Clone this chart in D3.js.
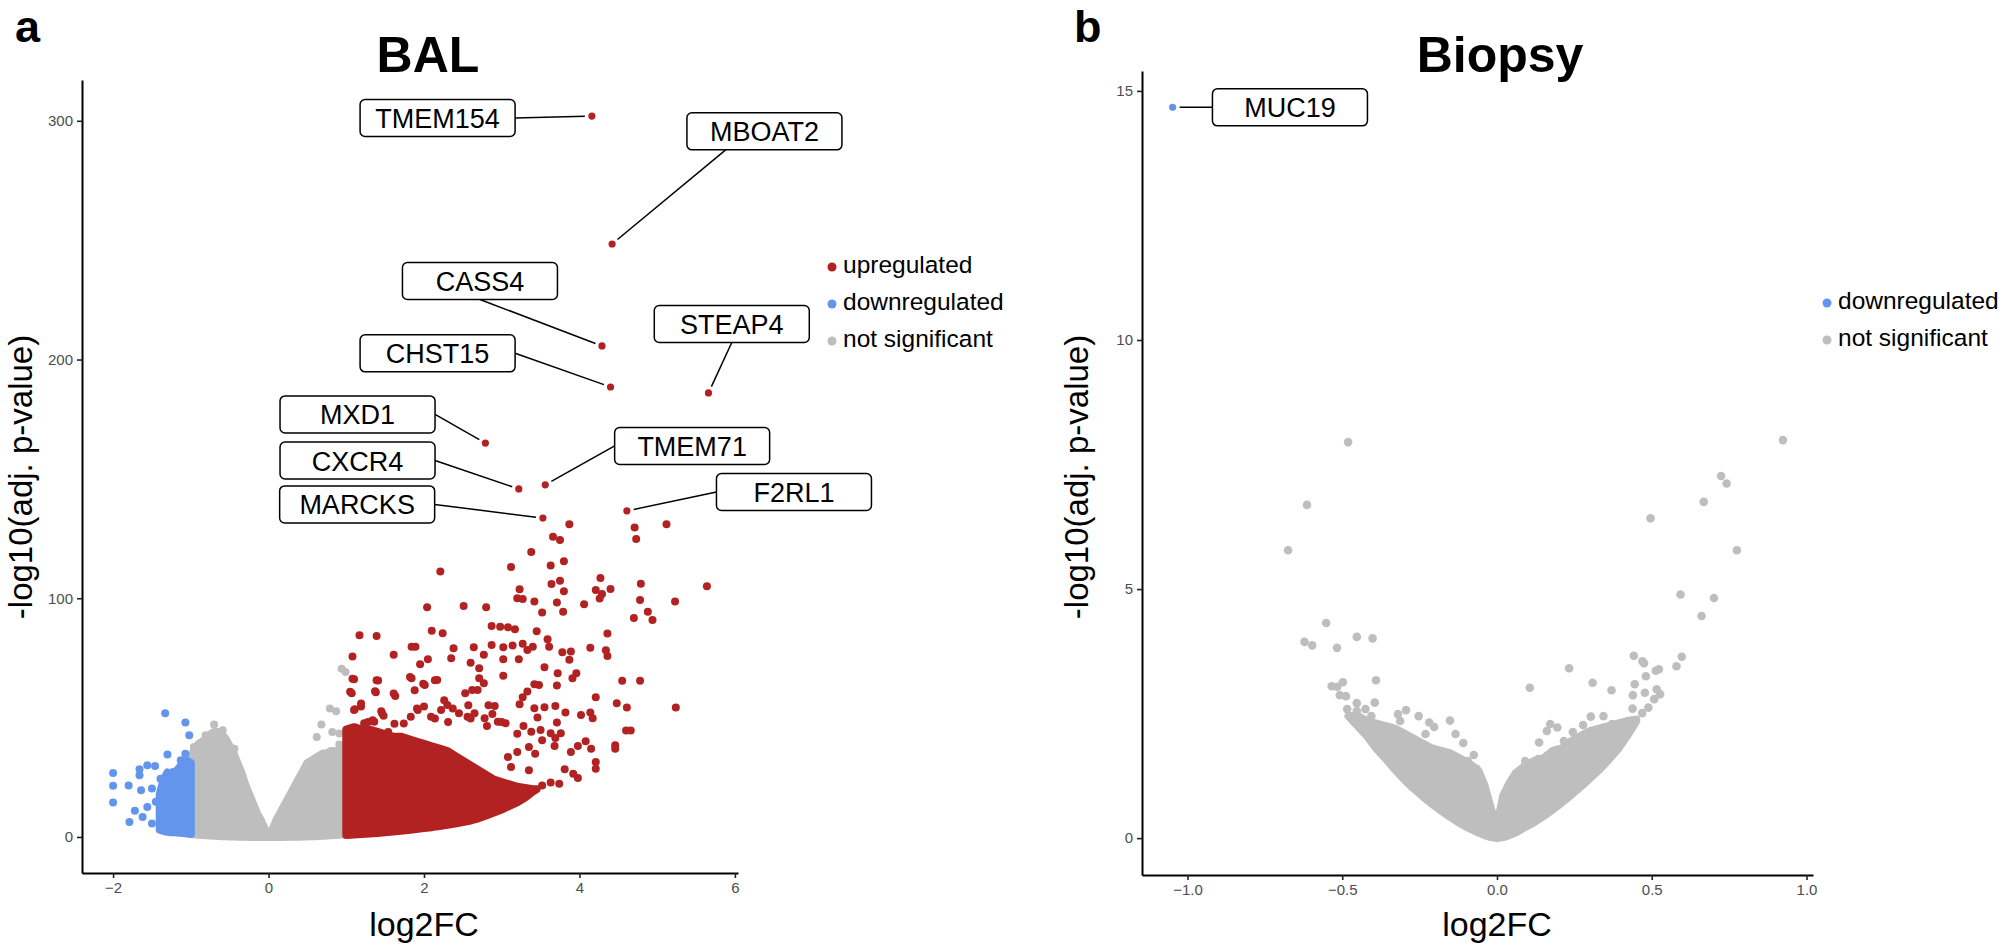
<!DOCTYPE html>
<html>
<head>
<meta charset="utf-8">
<script src="https://cdn.jsdelivr.net/npm/d3@7"></script>
<style>
    body { margin: 0; background: #fff; }
    svg { display: block; }
    text { font-family: "Liberation Sans", Arial, sans-serif; }
</style>
</head>
<body>
<svg id="chart" width="2007" height="950"></svg>
<script>
// ---- BAL data ----
var balUp = [
    [3.87,131.0],[3.66,125.8],[3.75,124.4],[3.38,119.4],[3.80,115.5],[3.63,113.7],[3.12,113.1],[2.21,111.2],
    [3.75,107.3],[3.64,106.0],[3.23,103.8],[3.80,102.9],[3.20,100.0],[3.27,99.7],[3.42,98.6],[3.71,98.2],
    [3.52,94.0],[3.79,94.3],[2.04,96.2],[2.51,96.8],[2.80,96.2],[4.27,108.5],[4.21,103.5],[4.40,103.9],
    [4.29,101.8],[4.26,99.9],[4.06,97.5],[4.71,129.6],[4.73,124.8],[5.12,131.0],[4.79,106.1],[4.78,99.3],
    [5.23,98.6],[5.64,105.0],[4.88,94.3],[4.94,90.9],[4.70,91.7],[4.36,85.2],[4.14,79.3],[4.36,75.8],
    [4.34,78.2],[4.55,65.4],[4.78,65.4],[5.24,54.2],[4.48,56.0],[4.61,54.2],[4.21,58.5],[4.60,44.6],
    [4.66,44.6],[3.45,86.2],[2.87,88.4],[2.98,88.1],[3.08,87.8],[3.17,87.0],[3.59,82.8],[3.61,79.7],
    [3.78,77.4],[3.89,77.7],[3.87,74.2],[3.96,68.6],[3.91,66.5],[3.72,68.6],[3.55,71.1],[3.40,79.7],
    [3.33,78.3],[3.27,80.9],[3.14,80.2],[3.02,79.5],[2.87,80.4],[2.64,79.5],[2.38,79.0],[2.24,85.3],
    [2.10,86.4],[1.89,79.7],[1.84,79.7],[1.61,76.3],[1.39,84.2],[1.17,84.5],[1.08,75.6],[1.10,66.1],
    [1.07,60.2],[1.41,65.5],[1.38,60.6],[1.63,59.1],[1.84,66.5],[1.95,72.3],[2.05,74.4],[2.01,63.7],
    [2.17,65.8],[2.35,74.9],[2.60,73.0],[2.71,70.7],[2.77,76.3],[3.02,74.4],[3.22,74.4],[3.02,67.5],
    [2.71,66.5],[2.77,64.4],[2.69,61.6],[2.53,60.2],[2.62,61.6],[3.42,64.0],[3.48,63.7],[3.71,63.4],
    [3.33,60.9],[3.27,58.5],[3.23,55.6],[3.42,53.9],[3.55,54.3],[3.69,54.9],[3.82,52.1],[4.02,51.1],
    [4.14,52.1],[4.17,49.7],[3.46,50.0],[3.28,46.5],[3.71,47.9],[3.76,43.4],[3.63,43.4],[3.50,44.8],
    [3.38,44.1],[3.20,43.2],[2.91,54.9],[2.88,51.5],[2.78,49.7],[2.95,48.3],[3.05,47.6],[2.81,46.5],
    [2.65,51.8],[2.56,50.4],[2.45,51.8],[2.30,55.3],[2.22,53.2],[2.09,50.4],[2.00,54.6],[1.92,53.2],
    [1.83,50.4],[1.62,47.4],[1.46,51.8],[1.36,48.3],[1.23,47.6],[1.19,54.6],[1.10,53.2],[1.48,50.8],
    [3.69,41.5],[4.21,31.4],[4.21,28.6],[4.15,37.0],[4.08,40.1],[3.98,38.1],[3.89,35.6],[3.68,38.1],
    [3.81,28.4],[3.92,26.5],[3.98,24.7],[3.74,22.3],[3.63,22.8],[3.52,21.6],[3.52,40.5],[3.35,37.7],
    [3.43,34.9],[3.20,35.6],[3.08,33.5],[3.12,29.3],[3.35,27.9],[4.46,38.4],[4.46,37.0],[1.60,41.2],
    [1.05,60.8],[1.08,66.3],[1.11,53.5],[1.19,55.9],[1.28,48.2],[1.39,65.6],[1.37,61.0],[1.45,52.7],
    [1.61,60.1],[1.82,67.0],[1.88,61.5],[1.99,64.2],[2.14,65.6],[2.26,57.3],[2.37,53.8],[2.57,55.2],
    [2.83,55.2],[3.00,48.2],[2.60,49.6],[2.31,48.2],[2.14,49.6],[1.91,53.8],[1.74,47.5],[1.54,44.0],
    [1.34,48.9]
];
var balDown = [
    [-2.00,26.8],[-2.00,21.4],[-2.00,14.4],[-1.80,21.6],[-1.79,6.3],[-1.33,51.8],[-1.07,47.9],[-1.02,42.6],
    [-1.30,34.5],[-1.66,28.4],[-1.66,25.8],[-1.56,30.0],[-1.46,29.7],[-1.64,19.6],[-1.72,11.0],[-1.62,8.4],
    [-1.50,5.6],[-1.50,20.3],[-1.39,24.4],[-1.23,27.2],[-1.13,32.1],[-1.07,34.9],[-1.19,21.6],[-1.36,17.5],
    [-1.25,13.3],[-1.45,14.7],[-1.56,12.6],[-1.13,10.5],[-1.30,7.7],[-1.13,3.5],[-1.07,4.9],[-1.39,4.9],
    [-1.22,2.1]
];
var balNs = [
    [0.94,70.5],[0.99,69.1],[0.79,53.8],[0.87,52.7],[0.68,47.1],[0.62,41.9],[0.82,44.0],[0.91,43.3],
    [0.99,37.7],[0.91,38.7],[-0.70,47.1],[-0.59,44.7],[-0.81,42.6],[-0.96,37.7],[-0.44,37.0]
];

// dense part of each cloud: x, lower and upper edge of the point centres
var balNsCloudX = [-1.0,-0.95,-0.9,-0.85,-0.8,-0.75,-0.7,-0.65,-0.6,-0.55,-0.5,-0.45,-0.4,-0.35,-0.3,-0.25,-0.2,-0.15,-0.1,-0.05,0,
    0.05,0.1,0.15,0.2,0.25,0.3,0.35,0.4,0.45,0.5,0.55,0.6,0.65,0.7,0.75,0.8,0.85,0.9,0.95,1.0];
var balNsCloudLow = [1.2,1.0,0.9,0.8,0.7,0.6,0.5,0.4,0.3,0.3,0.2,0.2,0.1,0.1,0.1,0,0,0,0,0,0,
    0,0,0,0,0.1,0.1,0.1,0.1,0.2,0.2,0.3,0.3,0.4,0.5,0.6,0.7,0.8,0.9,1.0,1.2];
var balNsCloudHigh = [33,37,39,40,41,43,44,44,43,41,38,35,31,27,22,18,14,10,7,3.5,1,
    3,7,10,13,16,19,22,25,28,31,32,33,34,35,35,36,36,36,36,35];

var balDownCloudX = [-1.40,-1.35,-1.3,-1.25,-1.2,-1.15,-1.1,-1.05,-1.0];
var balDownCloudLow = [3,2.5,2.2,2,2,1.8,1.6,1.4,1.2];
var balDownCloudHigh = [18,24,27,25,27,29,31,32,31];

var balUpCloudX = [1.0,1.1,1.2,1.3,1.4,1.5,1.6,1.7,1.8,1.9,2.0,2.1,2.2,2.3,2.4,2.5,2.6,2.7,2.8,2.9,3.0,3.1,3.2,3.3,3.4,3.45];
var balUpCloudLow = [0.8,1.0,1.2,1.4,1.7,2.0,2.3,2.6,2.9,3.3,3.7,4.1,4.6,5.1,5.6,6.2,6.9,7.8,9.0,10.2,11.5,13.0,14.5,16.5,19,20];
var balUpCloudHigh = [45,46,45,45,44,43,42,42,41,40,39,38,37,36,34,32,30,28,26,24,23,22,21,20.5,20,20];

var balGenes = ["TMEM154","MBOAT2","CASS4","STEAP4","CHST15","MXD1","CXCR4","TMEM71","MARCKS","F2RL1"];
var balGeneX = [4.16,4.42,4.29,5.66,4.40,2.79,3.22,3.56,3.53,4.61];
var balGeneY = [302,248.4,205.7,186,188.5,165,145.8,147.5,133.6,136.6];
// label centres as placed by the repel layout, in data units
var balLabelX = [2.175,6.38,2.72,5.96,2.175,1.145,1.145,5.45,1.14,6.76];
var balLabelY = [301.2,295.6,232.9,214.9,202.6,177.0,157.7,163.8,139.3,144.5];
var balLabelSide = ["r","bl","b","b","r","r","r","l","r","l"];

var balXTicks = [-2, 0, 2, 4, 6];
var balYTicks = [0, 100, 200, 300];
var balLegend = ["upregulated", "downregulated", "not significant"];

// ---- Biopsy data ----
var bioNs = [
    [-0.481,7.95],[-0.614,6.69],[-0.675,5.78],[-0.552,4.32],[-0.622,3.94],[-0.597,3.87],[-0.517,3.82],[-0.453,4.04],
    [-0.402,4.01],[-0.391,3.17],[-0.534,3.05],[-0.516,3.04],[-0.498,3.13],[-0.508,2.87],[-0.488,2.85],[-0.453,2.71],
    [-0.484,2.59],[-0.425,2.59],[-0.395,2.72],[-0.406,2.45],[-0.453,2.55],[-0.438,2.39],[-0.320,2.49],[-0.294,2.57],
    [-0.253,2.45],[-0.313,2.35],[-0.219,2.32],[-0.203,2.23],[-0.152,2.36],[-0.231,2.09],[-0.134,2.09],[-0.109,1.91],
    [-0.075,1.67],[-0.344,2.12],[-0.297,1.99],[-0.266,1.85],[-0.188,1.72],[-0.148,1.65],[-0.094,1.55],[-0.066,1.39],
    [-0.059,1.19],[-0.047,0.82],
    [0.924,7.99],[0.724,7.27],[0.742,7.12],[0.668,6.75],[0.496,6.42],[0.775,5.78],[0.593,4.89],[0.701,4.82],
    [0.661,4.46],[0.442,3.66],[0.470,3.55],[0.475,3.51],[0.597,3.64],[0.580,3.45],[0.513,3.36],[0.523,3.39],
    [0.233,3.41],[0.309,3.12],[0.106,3.02],[0.370,2.97],[0.481,3.25],[0.445,3.09],[0.439,2.87],[0.478,2.92],
    [0.516,2.99],[0.527,2.89],[0.508,2.79],[0.489,2.62],[0.438,2.60],[0.469,2.51],[0.303,2.44],[0.344,2.45],
    [0.372,2.29],[0.403,2.28],[0.427,2.32],[0.278,2.27],[0.172,2.29],[0.195,2.22],[0.161,2.15],[0.245,2.13],
    [0.216,1.95],[0.317,2.15],[0.136,1.92],[0.259,1.72],[0.091,1.55],[0.133,1.59],[0.078,1.32],[0.066,1.17],
    [0.044,0.79]
];
var bioCloudX = [-0.48,-0.45,-0.42,-0.39,-0.36,-0.33,-0.30,-0.27,-0.24,-0.21,-0.18,-0.15,-0.12,-0.09,-0.06,-0.04,-0.02,0,
    0.02,0.04,0.06,0.09,0.12,0.15,0.18,0.21,0.24,0.27,0.30,0.33,0.36,0.39,0.42,0.45];
var bioCloudLow = [2.45,2.25,2.05,1.80,1.60,1.38,1.18,1.00,0.84,0.69,0.55,0.42,0.30,0.20,0.11,0.06,0.02,0,
    0.02,0.06,0.11,0.22,0.32,0.44,0.57,0.72,0.87,1.03,1.20,1.37,1.57,1.78,2.05,2.35];
var bioCloudHigh = [2.45,2.45,2.35,2.3,2.25,2.2,2.1,2.0,1.9,1.8,1.75,1.7,1.6,1.5,1.35,1.05,0.6,0.25,
    0.85,1.1,1.3,1.45,1.55,1.6,1.75,1.8,1.95,2.05,2.15,2.2,2.25,2.3,2.35,2.38];

var bioGenes = ["MUC19"];
var bioGeneX = [-1.048];
var bioGeneY = [14.67];
var bioLabelX = [-0.669];
var bioLabelY = [14.67];
var bioLabelSide = ["l"];

var bioXTicks = [-1, -0.5, 0, 0.5, 1];
var bioYTicks = [0, 5, 10, 15];
var bioLegend = ["downregulated", "not significant"];

var COLORS = { "upregulated": "#B22222", "downregulated": "#6495ED", "not significant": "#BEBEBE" };
var POINT_R = 4;

var Volcano = {

    makeScales : function (p) {
        return {
            x : d3.scaleLinear().domain(p.xDomain).range([p.left, p.right]),
            y : d3.scaleLinear().domain(p.yDomain).range([p.bottom, p.top])
        };
    },

    drawAxes : function (svg, p, s) {
        var xAxis = d3.axisBottom(s.x).tickValues(p.xTicks).tickFormat(p.xFormat)
                .tickSize(5).tickSizeOuter(0).tickPadding(4),
            yAxis = d3.axisLeft(s.y).tickValues(p.yTicks).tickFormat(d3.format("d"))
                .tickSize(5).tickSizeOuter(0).tickPadding(4);

        var gx = svg.append("g").attr("transform", "translate(0," + p.bottom + ")").call(xAxis),
            gy = svg.append("g").attr("transform", "translate(" + p.left + ",0)").call(yAxis);

        [gx, gy].forEach(function (g) {
            g.attr("font-family", null).attr("font-size", null);
            g.select(".domain").attr("stroke", "#000").attr("stroke-width", 2);
            g.selectAll(".tick line").attr("stroke", "#222").attr("stroke-width", 1.6);
            g.selectAll(".tick text").attr("fill", "#4D4D4D").style("font-size", "15px");
        });

        // axis titles
        svg.append("text")
            .attr("x", p.xTitleX)
            .attr("y", 936)
            .attr("text-anchor", "middle")
            .style("font-size", "34px")
            .text("log2FC");

        svg.append("text")
            .attr("transform", "translate(" + p.yTitleX + ",477) rotate(-90)")
            .attr("text-anchor", "middle")
            .style("font-size", "33px")
            .text("-log10(adj. p-value)");

        svg.append("text")
            .attr("x", p.titleX)
            .attr("y", 72)
            .attr("text-anchor", "middle")
            .style("font-size", "50px")
            .style("font-weight", "bold")
            .text(p.title);

        svg.append("text")
            .attr("x", p.tagX)
            .attr("y", 42)
            .style("font-size", "45px")
            .style("font-weight", "bold")
            .text(p.tag);
    },

    drawCloud : function (svg, s, xs, lo, hi, color) {
        var rows = xs.map(function (v, i) {
            return { x : v, lo : lo[i], hi : hi[i] };
        });
        var area = d3.area()
            .x(function (d) { return s.x(d.x); })
            .y0(function (d) { return s.y(d.lo); })
            .y1(function (d) { return s.y(d.hi); });

        svg.append("path")
            .datum(rows)
            .attr("d", area)
            .attr("fill", color)
            .attr("stroke", color)
            .attr("stroke-width", POINT_R * 2)
            .attr("stroke-linejoin", "round");
    },

    drawPoints : function (svg, s, pts, color, r) {
        svg.append("g")
            .selectAll("circle")
            .data(pts)
            .enter()
            .append("circle")
                .attr("cx", function (d) { return s.x(d[0]); })
                .attr("cy", function (d) { return s.y(d[1]); })
                .attr("r", r)
                .attr("fill", color);
    },

    drawLabels : function (svg, s, genes, gx, gy, lx, ly, side, color) {
        var boxW = 155, boxH = 37;
        var data = genes.map(function (g, i) {
            var cx = s.x(lx[i]), cy = s.y(ly[i]),
                px = s.x(gx[i]), py = s.y(gy[i]),
                ax = cx, ay = cy;
            if (side[i] === "r") { ax = cx + boxW / 2; }
            if (side[i] === "l") { ax = cx - boxW / 2; }
            if (side[i] === "b") { ay = cy + boxH / 2; }
            if (side[i] === "bl") { ay = cy + boxH / 2; ax = cx - boxW / 4; }
            if (side[i] === "t") { ay = cy - boxH / 2; }
            // stop the segment a little short of the point
            var dx = px - ax, dy = py - ay, len = Math.sqrt(dx * dx + dy * dy),
                k = (len - 7) / len;
            return { name : g, cx : cx, cy : cy, px : px, py : py, ax : ax, ay : ay,
                     ex : ax + dx * k, ey : ay + dy * k };
        });

        var g = svg.append("g");

        g.selectAll("line")
            .data(data)
            .enter()
            .append("line")
                .attr("x1", function (d) { return d.ax; })
                .attr("y1", function (d) { return d.ay; })
                .attr("x2", function (d) { return d.ex; })
                .attr("y2", function (d) { return d.ey; })
                .attr("stroke", "#000")
                .attr("stroke-width", 1.5);

        g.selectAll("circle")
            .data(data)
            .enter()
            .append("circle")
                .attr("cx", function (d) { return d.px; })
                .attr("cy", function (d) { return d.py; })
                .attr("r", 3.6)
                .attr("fill", color);

        g.selectAll("rect")
            .data(data)
            .enter()
            .append("rect")
                .attr("x", function (d) { return d.cx - boxW / 2; })
                .attr("y", function (d) { return d.cy - boxH / 2; })
                .attr("width", boxW)
                .attr("height", boxH)
                .attr("rx", 5)
                .attr("fill", "#fff")
                .attr("stroke", "#000")
                .attr("stroke-width", 1.5);

        g.selectAll("text")
            .data(data)
            .enter()
            .append("text")
                .attr("x", function (d) { return d.cx; })
                .attr("y", function (d) { return d.cy + 10; })
                .attr("text-anchor", "middle")
                .style("font-size", "27px")
                .text(function (d) { return d.name; });
    },

    drawLegend : function (svg, items, x, y0) {
        var g = svg.append("g");
        items.forEach(function (name, i) {
            var y = y0 + i * 37;
            g.append("circle")
                .attr("cx", x)
                .attr("cy", y + 1)
                .attr("r", 4.5)
                .attr("fill", COLORS[name]);
            g.append("text")
                .attr("x", x + 11)
                .attr("y", y + 7)
                .style("font-size", "24.5px")
                .text(name);
        });
    }
};

var svg = d3.select("#chart");

// ---- panel a: BAL ----
var balPanel = {
    left : 82, right : 738, top : 80, bottom : 873,
    xDomain : [-2.40, 6.04], yDomain : [-15.1, 317.1],
    xTicks : balXTicks, yTicks : balYTicks, xFormat : d3.format("d"),
    xTitleX : 424, yTitleX : 32, titleX : 428, title : "BAL", tagX : 15, tag : "a"
};
var balS = Volcano.makeScales(balPanel);

Volcano.drawCloud(svg, balS, balNsCloudX, balNsCloudLow, balNsCloudHigh, COLORS["not significant"]);
Volcano.drawPoints(svg, balS, balNs, COLORS["not significant"], POINT_R);
Volcano.drawCloud(svg, balS, balDownCloudX, balDownCloudLow, balDownCloudHigh, COLORS["downregulated"]);
Volcano.drawPoints(svg, balS, balDown, COLORS["downregulated"], POINT_R);
Volcano.drawCloud(svg, balS, balUpCloudX, balUpCloudLow, balUpCloudHigh, COLORS["upregulated"]);
Volcano.drawPoints(svg, balS, balUp, COLORS["upregulated"], POINT_R);
Volcano.drawAxes(svg, balPanel, balS);
Volcano.drawLabels(svg, balS, balGenes, balGeneX, balGeneY, balLabelX, balLabelY, balLabelSide, COLORS["upregulated"]);
Volcano.drawLegend(svg, balLegend, 832, 266);

// ---- panel b: Biopsy ----
var bioPanel = {
    left : 1142, right : 1813, top : 71, bottom : 875,
    xDomain : [-1.147, 1.021], yDomain : [-0.74, 15.4],
    xTicks : bioXTicks, yTicks : bioYTicks, xFormat : d3.format(".1f"),
    xTitleX : 1497, yTitleX : 1088, titleX : 1500, title : "Biopsy", tagX : 1074, tag : "b"
};
var bioS = Volcano.makeScales(bioPanel);

Volcano.drawCloud(svg, bioS, bioCloudX, bioCloudLow, bioCloudHigh, COLORS["not significant"]);
Volcano.drawPoints(svg, bioS, bioNs, COLORS["not significant"], 4.3);
Volcano.drawAxes(svg, bioPanel, bioS);
Volcano.drawLabels(svg, bioS, bioGenes, bioGeneX, bioGeneY, bioLabelX, bioLabelY, bioLabelSide, COLORS["downregulated"]);
Volcano.drawLegend(svg, bioLegend, 1827, 302);
</script>
</body>
</html>
